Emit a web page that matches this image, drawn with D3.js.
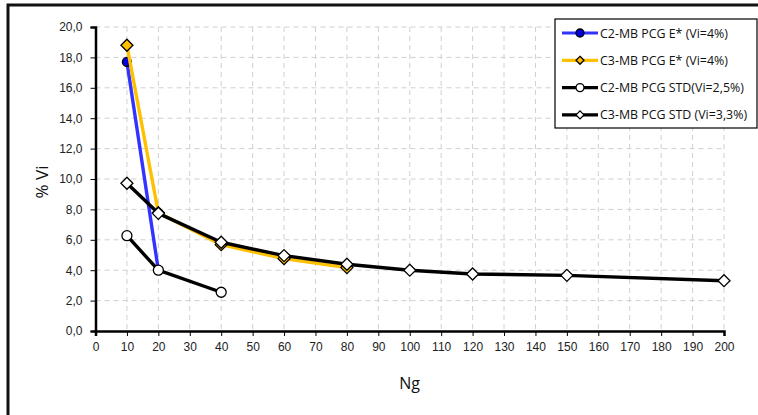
<!DOCTYPE html>
<html>
<head>
<meta charset="utf-8">
<script src="https://cdn.jsdelivr.net/npm/d3@7"></script>
<style>
  body { margin: 0; background: #fff; }
  svg { display: block; font-family: "Open Sans", "Noto Sans", sans-serif; }
  .grid line { stroke: #d0d0d0; stroke-dasharray: 5,4; stroke-width: 1; }
  .axis path, .axis line { stroke: #000; }
  .axis text { fill: #222; font-size: 12px; }
</style>
</head>
<body>
<svg id="chart" width="758" height="415"></svg>
<script>
// donnees
var ngC2E = [10, 20];
var viC2E = [17.7, 4.0];
var ngC3E = [10, 20, 40, 60, 80];
var viC3E = [18.8, 7.78, 5.68, 4.76, 4.17];
var ngC2S = [10, 20, 40];
var viC2S = [6.27, 4.0, 2.55];
var ngC3S = [10, 20, 40, 60, 80, 100, 120, 150, 200];
var viC3S = [9.72, 7.74, 5.84, 4.96, 4.39, 4.0, 3.75, 3.66, 3.31];
var seriesNames = ["C2-MB PCG E* (Vi=4%)", "C3-MB PCG E* (Vi=4%)", "C2-MB PCG STD(Vi=2,5%)", "C3-MB PCG STD (Vi=3,3%)"];
var xTicks = d3.range(0, 201, 10);
var yTicks = d3.range(0, 20.1, 2);

var svg = d3.select("#chart");
var margin = {left: 95.5, top: 27};

var x = d3.scaleLinear().domain([0, 200]).range([0, 628.5]);
var y = d3.scaleLinear().domain([0, 20]).range([304, 0]);

// cadre exterieur (coupe a droite et en bas)
svg.append("rect")
    .attr("x", 8).attr("y", 5)
    .attr("width", 800).attr("height", 500)
    .attr("fill", "#fff")
    .attr("stroke", "#111")
    .attr("stroke-width", 3);

var g = svg.append("g")
    .attr("transform", "translate(" + margin.left + "," + margin.top + ")");

// grille
g.append("g").attr("class", "grid")
  .selectAll("line").data(xTicks.slice(1))
  .enter().append("line")
    .attr("x1", function(d){ return x(d); }).attr("x2", function(d){ return x(d); })
    .attr("y1", 0).attr("y2", y(0));
g.append("g").attr("class", "grid")
  .selectAll("line").data(yTicks.slice(1))
  .enter().append("line")
    .attr("x1", 0).attr("x2", x(200))
    .attr("y1", function(d){ return y(d); }).attr("y2", function(d){ return y(d); });

// axes
var fmt = function(d){ return d3.format(".1f")(d).replace(".", ","); };
g.append("g").attr("class", "axis")
    .call(d3.axisLeft(y).tickValues(yTicks).tickFormat(fmt).tickSize(5).tickPadding(8))
    .call(function(a){ a.select(".domain").attr("stroke-width", 2.5); });
g.append("g").attr("class", "axis")
    .attr("transform", "translate(0," + y(0) + ")")
    .call(d3.axisBottom(x).tickValues(xTicks).tickSize(5).tickPadding(6))
    .call(function(a){ a.select(".domain").attr("stroke-width", 2.5); });

// titres d'axes
svg.append("text")
    .attr("transform", "translate(48," + (margin.top + 155) + ") rotate(-90)")
    .attr("text-anchor", "middle")
    .attr("font-size", 17).attr("fill", "#111")
    .text("% Vi");
svg.append("text")
    .attr("x", margin.left + 314).attr("y", 389)
    .attr("text-anchor", "middle")
    .attr("font-size", 16).attr("fill", "#111")
    .text("Ng");

var series = [
  {xs: ngC2E, ys: viC2E, color: "#3333ff", marker: "circle", fill: "#0000e0", size: 4.5},
  {xs: ngC3E, ys: viC3E, color: "#ffc000", marker: "diamond", fill: "#ffc000", size: 6},
  {xs: ngC2S, ys: viC2S, color: "#000", marker: "circle", fill: "#fff", size: 5},
  {xs: ngC3S, ys: viC3S, color: "#000", marker: "diamond", fill: "#fff", size: 6}
];

var line = d3.line()
    .x(function(d){ return x(d[0]); })
    .y(function(d){ return y(d[1]); });

function drawMarker(sel, s, r) {
  if (s.marker == "circle") {
    sel.append("circle").attr("r", r)
      .attr("fill", s.fill).attr("stroke", "#000").attr("stroke-width", 1.3);
  } else {
    sel.append("path").attr("d", "M0," + (-r) + "L" + r + ",0L0," + r + "L" + (-r) + ",0Z")
      .attr("fill", s.fill).attr("stroke", "#000").attr("stroke-width", 1.3);
  }
}

series.forEach(function(s){
  var pts = s.xs.map(function(v, i){ return [v, s.ys[i]]; });
  g.append("path").datum(pts)
    .attr("d", line)
    .attr("fill", "none")
    .attr("stroke", s.color)
    .attr("stroke-width", 3.4)
    .attr("stroke-linejoin", "round");
  pts.forEach(function(p){
    var m = g.append("g").attr("transform", "translate(" + x(p[0]) + "," + y(p[1]) + ")");
    drawMarker(m, s, s.size);
  });
});

// legende
var leg = svg.append("g").attr("transform", "translate(555,19)");
leg.append("rect")
    .attr("width", 202).attr("height", 109)
    .attr("fill", "#fff").attr("stroke", "#000").attr("stroke-width", 1.2);
series.forEach(function(s, i){
  var ly = 14 + i * 27.3;
  var row = leg.append("g").attr("transform", "translate(0," + ly + ")");
  row.append("line").attr("x1", 7).attr("x2", 43)
    .attr("stroke", s.color).attr("stroke-width", 3.2);
  var m = row.append("g").attr("transform", "translate(25,0)");
  drawMarker(m, s, 4);
  row.append("text").attr("x", 45).attr("y", 4.5)
    .attr("font-size", 12.4).attr("fill", "#111")
    .text(seriesNames[i]);
});
</script>
</body>
</html>
